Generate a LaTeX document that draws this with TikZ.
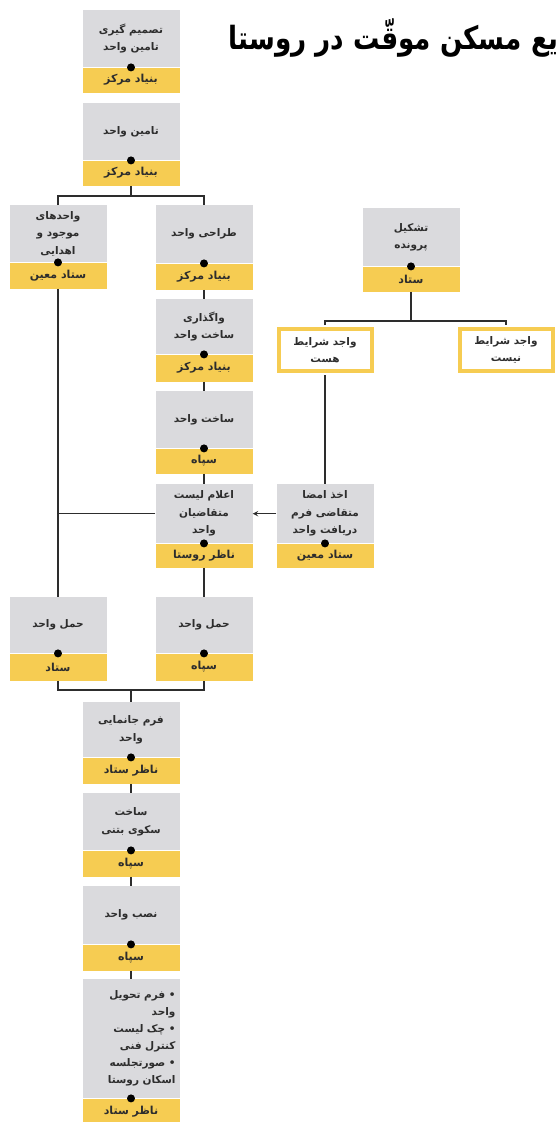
\documentclass[tikz,border=0pt]{standalone}
\usepackage{fontspec}
\usepackage{xcolor}
\usepackage{tikz}
\usetikzlibrary{calc}
\TeXXeTstate=1
\newfontfamily\arabicfont[Script=Arabic]{DejaVu Sans}
\newcommand{\rtl}[1]{\beginR#1\endR}
\definecolor{boxgray}{RGB}{218,218,221}
\definecolor{boxyellow}{RGB}{246,204,82}
\definecolor{inkgray}{RGB}{45,45,45}

\begin{document}
\begin{tikzpicture}[x=1pt, y=-1pt,
  graybox/.style={fill=boxgray, minimum width=97pt, inner sep=2pt, anchor=north, align=center, text=inkgray, font=\arabicfont\fontsize{10.5}{17.5}\selectfont\bfseries},
  yellowbar/.style={fill=boxyellow, minimum width=97pt, inner sep=0pt, anchor=north, text=inkgray, font=\arabicfont\fontsize{11}{12}\selectfont\bfseries},
  framebox/.style={draw=boxyellow, line width=4pt, fill=white, minimum width=93pt, minimum height=42pt, inner sep=0pt, align=center, text=inkgray, font=\arabicfont\fontsize{10.5}{17}\selectfont\bfseries},
  link/.style={draw=inkgray, line width=1.4pt}]
  \useasboundingbox (0,0) rectangle (556,1122);
  \node[font=\arabicfont\fontsize{32}{32}\selectfont\bfseries, anchor=east, inner sep=0pt, xscale=0.82] (title) at (559,38) {\rtl{یع مسکن موقّت در روستا}};
  \node[graybox, minimum height=57pt] (tasmim) at (131,10) {\rtl{تصمیم گیری}\\\rtl{تامین واحد}};
  \node[yellowbar, minimum height=25pt] (tasmimy) at (tasmim.south) {\rtl{بنیاد مرکز}};
  \node[graybox, minimum height=57pt] (tamin) at (131,103) {\rtl{تامین واحد}};
  \node[yellowbar, minimum height=25pt] (taminy) at (tamin.south) {\rtl{بنیاد مرکز}};
  \node[graybox, minimum height=57pt] (mojud) at (58,205) {\rtl{واحدهای}\\\rtl{موجود و}\\\rtl{اهدایی}};
  \node[yellowbar, minimum height=26pt] (mojudy) at (mojud.south) {\rtl{ستاد معین}};
  \node[graybox, minimum height=58pt] (tarahi) at (204,205) {\rtl{طراحی واحد}};
  \node[yellowbar, minimum height=26pt] (tarahiy) at (tarahi.south) {\rtl{بنیاد مرکز}};
  \node[graybox, minimum height=55pt] (vagozari) at (204,299) {\rtl{واگذاری}\\\rtl{ساخت واحد}};
  \node[yellowbar, minimum height=27pt] (vagozariy) at (vagozari.south) {\rtl{بنیاد مرکز}};
  \node[graybox, minimum height=57pt] (sakht) at (204,391) {\rtl{ساخت واحد}};
  \node[yellowbar, minimum height=25pt] (sakhty) at (sakht.south) {\rtl{سپاه}};
  \node[graybox, minimum height=59pt] (elam) at (204,484) {\rtl{اعلام لیست}\\\rtl{متقاضیان}\\\rtl{واحد}};
  \node[yellowbar, minimum height=24pt] (elamy) at (elam.south) {\rtl{ناظر روستا}};
  \node[graybox, minimum height=59pt] (akhz) at (325,484) {\rtl{اخذ امضا}\\\rtl{متقاضی فرم}\\\rtl{دریافت واحد}};
  \node[yellowbar, minimum height=24pt] (akhzy) at (akhz.south) {\rtl{ستاد معین}};
  \node[graybox, minimum height=58pt] (tashkil) at (411,208) {\rtl{تشکیل}\\\rtl{پرونده}};
  \node[yellowbar, minimum height=25pt] (tashkily) at (tashkil.south) {\rtl{ستاد}};
  \node[framebox] (hast) at (325,350) {\rtl{واجد شرایط}\\\rtl{هست}};
  \node[framebox] (nist) at (506,350) {\rtl{واجد شرایط}\\\rtl{نیست}};
  \node[graybox, minimum height=56pt] (hamlL) at (58,597) {\rtl{حمل واحد}};
  \node[yellowbar, minimum height=27pt] (hamlLy) at (hamlL.south) {\rtl{ستاد}};
  \node[graybox, minimum height=56pt] (hamlR) at (204,597) {\rtl{حمل واحد}};
  \node[yellowbar, minimum height=27pt] (hamlRy) at (hamlR.south) {\rtl{سپاه}};
  \node[graybox, minimum height=55pt] (form) at (131,702) {\rtl{فرم جانمایی}\\\rtl{واحد}};
  \node[yellowbar, minimum height=26pt] (formy) at (form.south) {\rtl{ناظر ستاد}};
  \node[graybox, minimum height=57pt] (sakou) at (131,793) {\rtl{ساخت}\\\rtl{سکوی بتنی}};
  \node[yellowbar, minimum height=26pt] (sakouy) at (sakou.south) {\rtl{سپاه}};
  \node[graybox, minimum height=58pt] (nasb) at (131,886) {\rtl{نصب واحد}};
  \node[yellowbar, minimum height=26pt] (nasby) at (nasb.south) {\rtl{سپاه}};
  \node[graybox, minimum height=119pt, text width=89pt, align=right, font=\arabicfont\fontsize{10.5}{17}\selectfont\bfseries] (final) at (131,979) {\rtl{• فرم تحویل}\\\rtl{واحد}\\\rtl{• چک لیست}\\\rtl{کنترل فنی}\\\rtl{• صورتجلسه}\\\rtl{اسکان روستا}};
  \node[yellowbar, minimum height=26pt] (finaly) at (final.south) {\rtl{ناظر ستاد}};
  \foreach \b in {tasmim,tamin,mojud,tarahi,vagozari,sakht,elam,akhz,tashkil,hamlL,hamlR,form,sakou,nasb,final}
    \fill[black] (\b.south) circle (4pt);
  \path (taminy.south) ++(0,10) coordinate (fork1);
  \draw[link] (taminy.south) -- (fork1);
  \draw[link] (mojud.north) |- (fork1) -| (tarahi.north);
  \draw[link] (tarahiy.south) -- (vagozari.north);
  \draw[link] (vagozariy.south) -- (sakht.north);
  \draw[link] (sakhty.south) -- (elam.north);
  \draw[link] (mojudy.south) -- (hamlL.north);
  \draw[link] (elam.west) -- (elam.west -| mojudy.south);
  \draw[link] (elamy.south) -- (hamlR.north);
  \draw[link, -stealth] (akhz.west) -- (elam.east);
  \path (tashkily.south) ++(0,29) coordinate (fork2);
  \draw[link] (tashkily.south) -- (fork2);
  \draw[link] ([yshift=2pt]hast.north) |- (fork2) -| ([yshift=2pt]nist.north);
  \draw[link] ([yshift=-2pt]hast.south) -- (akhz.north);
  \path (form.north) ++(0,-12) coordinate (fork3);
  \draw[link] (hamlLy.south) |- (fork3) -| (hamlRy.south);
  \draw[link] (fork3) -- (form.north);
  \draw[link] (formy.south) -- (sakou.north);
  \draw[link] (sakouy.south) -- (nasb.north);
  \draw[link] (nasby.south) -- (final.north);
\end{tikzpicture}
\end{document}
